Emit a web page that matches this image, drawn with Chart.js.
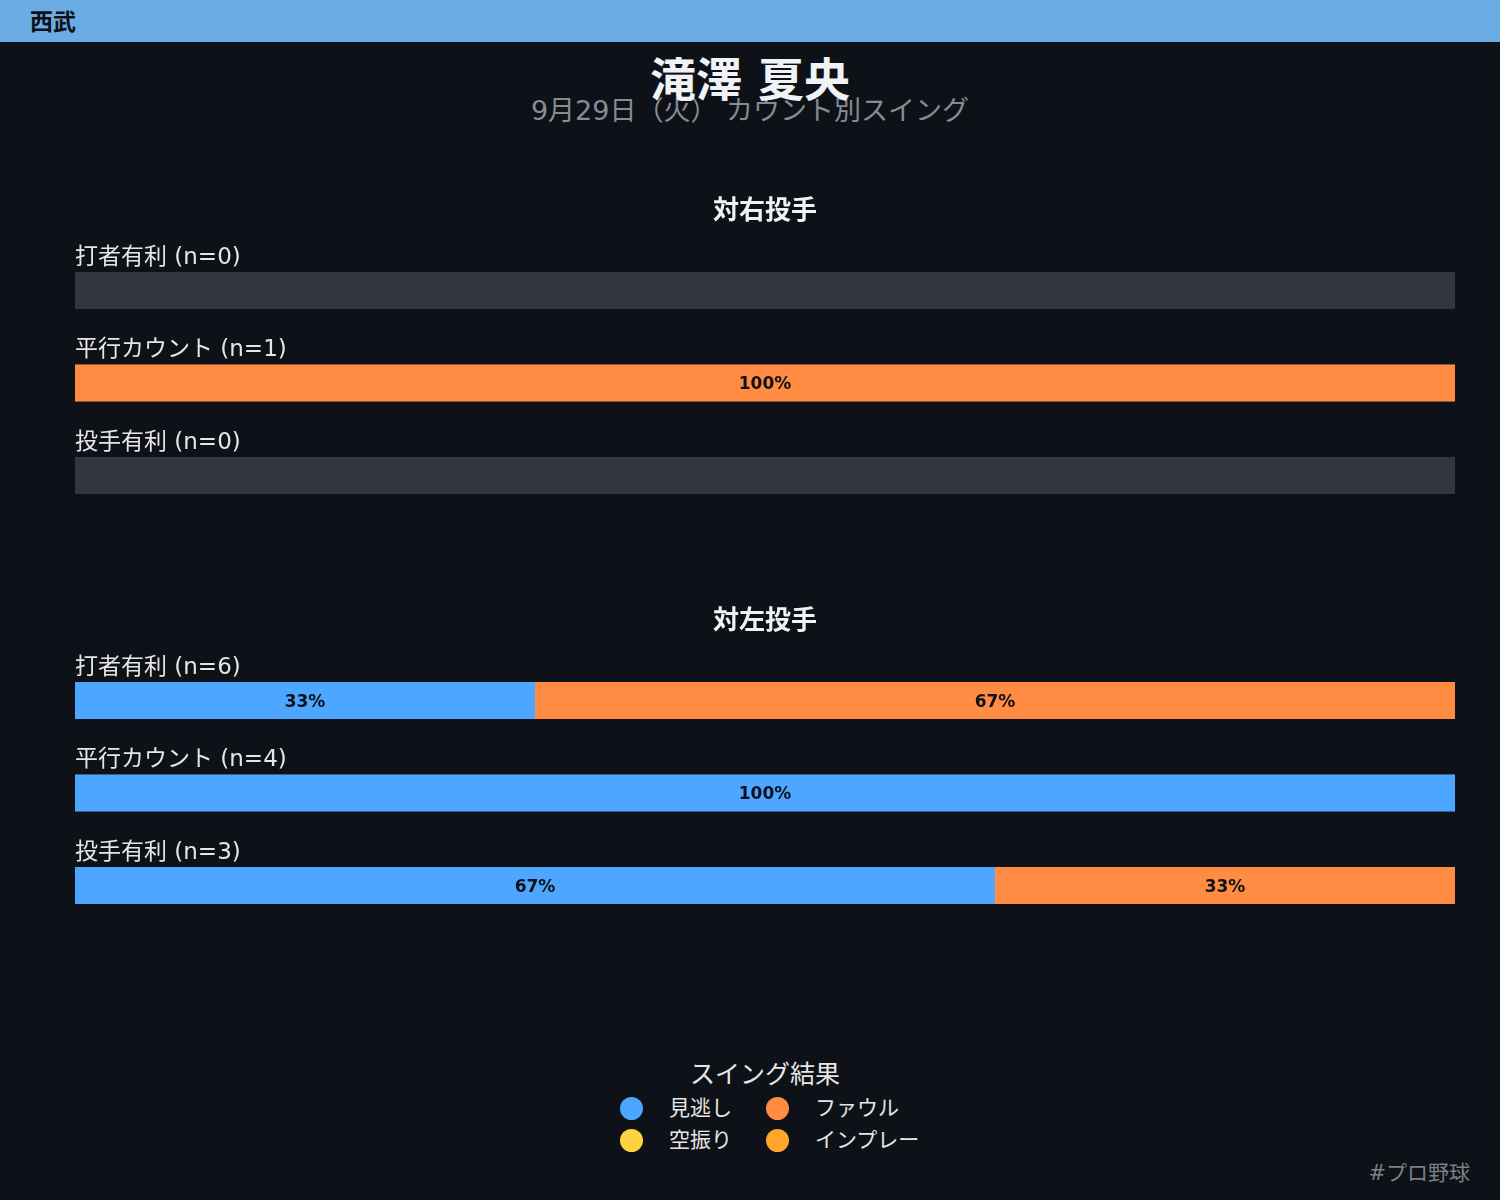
<!DOCTYPE html>
<html>
<head>
<meta charset="utf-8">
<script src="https://cdn.jsdelivr.net/npm/chart.js@4"></script>
<style>
  body { margin: 0; background: #0e1117; width: 1500px; height: 1200px; overflow: hidden; position: relative;
         font-family: "DejaVu Sans", "Noto Sans CJK JP", sans-serif; }
  .topbar { position: absolute; left: 0; top: 0; width: 1500px; height: 42px; background: #6aace3; }
  .topbar span { position: absolute; left: 30px; top: 3px; font-size: 23px; font-weight: bold; color: #0e1117; }
  .title { position: absolute; left: 0; width: 1500px; text-align: center; top: 43px; font-size: 46px; font-weight: bold; color: #f0f2f6; z-index: 2; }
  .subtitle { position: absolute; left: 0; width: 1500px; text-align: center; top: 89px; font-size: 27px; color: #878b93; z-index: 1; }
  .chartbox { position: absolute; left: 0; width: 1500px; height: 400px; }
  .legtitle { position: absolute; left: 0; width: 1530px; text-align: center; top: 1054px; font-size: 25px; color: #e6e6e6; }
  .legitem { position: absolute; font-size: 21px; color: #e6e6e6; }
  .dot { position: absolute; width: 23px; height: 23px; border-radius: 50%; }
  .tag { position: absolute; right: 30px; top: 1156px; font-size: 21px; color: #7c8088; }
</style>
</head>
<body>
<div class="topbar"><span>西武</span></div>
<div class="subtitle">9月29日（火） カウント別スイング</div>
<div class="title">滝澤 夏央</div>
<div class="chartbox" style="top:150px"><canvas id="rightChart"></canvas></div>
<div class="chartbox" style="top:560px"><canvas id="leftChart"></canvas></div>
<div class="legtitle">スイング結果</div>
<div id="legend"></div>
<div class="tag">#プロ野球</div>

<script>
// count situations (rows)
const countLabels = ["打者有利", "平行カウント", "投手有利"];
// swing results (stack order)
const resultLabels = ["見逃し", "空振り", "ファウル", "インプレー"];
const resultColors = ["#4da6ff", "#ffd23f", "#ff8c42", "#ffa62b"];

// vs right-handed pitchers: pitches per situation, by result
const rightTotals = [0, 1, 0];
const rightLook = [0, 0, 0];
const rightWhiff = [0, 0, 0];
const rightFoul = [0, 1, 0];
const rightInPlay = [0, 0, 0];

// vs left-handed pitchers
const leftTotals = [6, 4, 3];
const leftLook = [2, 4, 2];
const leftWhiff = [0, 0, 0];
const leftFoul = [4, 0, 1];
const leftInPlay = [0, 0, 0];

const barHeight = 37;

const rowsPlugin = {
  id: "rows",
  beforeDatasetsDraw(chart) {
    const ctx = chart.ctx;
    const area = chart.chartArea;
    const yScale = chart.scales.y;
    ctx.save();
    ctx.fillStyle = "#31363f";
    countLabels.forEach((lab, i) => {
      const y = yScale.getPixelForValue(i);
      ctx.fillRect(area.left, y - barHeight / 2, area.right - area.left, barHeight);
    });
    ctx.restore();
  },
  afterDraw(chart) {
    const ctx = chart.ctx;
    const area = chart.chartArea;
    const yScale = chart.scales.y;
    const opts = chart.options.plugins.rows;
    ctx.save();
    ctx.fillStyle = "#f0f2f6";
    ctx.font = 'bold 26px "DejaVu Sans", "Noto Sans CJK JP"';
    ctx.textAlign = "center";
    ctx.textBaseline = "middle";
    ctx.fillText(opts.title, (area.left + area.right) / 2, area.top - 32);

    ctx.font = '23px "DejaVu Sans", "Noto Sans CJK JP"';
    ctx.textAlign = "left";
    ctx.fillStyle = "#e6e6e6";
    countLabels.forEach((lab, i) => {
      const y = yScale.getPixelForValue(i);
      ctx.fillText(lab + " (n=" + opts.totals[i] + ")", area.left, y - barHeight / 2 - 14);
    });

    // percentage labels in each segment
    ctx.font = 'bold 17px "DejaVu Sans", "Noto Sans CJK JP"';
    ctx.textAlign = "center";
    ctx.fillStyle = "#0e1117";
    chart.data.datasets.forEach((ds, di) => {
      chart.getDatasetMeta(di).data.forEach((bar, i) => {
        const v = ds.data[i];
        if (v > 0) {
          const p = bar.getProps(["x", "base", "y"], true);
          ctx.fillText(Math.round(v) + "%", (p.x + p.base) / 2, p.y + 2);
        }
      });
    });
    ctx.restore();
  }
};

function pct(counts, totals) {
  return counts.map((c, i) => totals[i] > 0 ? c / totals[i] * 100 : 0);
}

function makeChart(id, title, totals, series) {
  const ctx = document.getElementById(id).getContext("2d");
  new Chart(ctx, {
    type: "bar",
    data: {
      labels: countLabels,
      datasets: resultLabels.map((lab, k) => ({
        label: lab,
        data: pct(series[k], totals),
        backgroundColor: resultColors[k],
        borderWidth: 0,
        inflateAmount: 0,
        barThickness: barHeight
      }))
    },
    options: {
      indexAxis: "y",
      responsive: true,
      maintainAspectRatio: false,
      animation: false,
      layout: { padding: { left: 75, right: 45, top: 94.25, bottom: 28.25 } },
      scales: {
        x: { stacked: true, min: 0, max: 100, display: false },
        y: { stacked: true, display: false }
      },
      plugins: {
        legend: { display: false },
        tooltip: { enabled: false },
        rows: { title: title, totals: totals }
      }
    },
    plugins: [rowsPlugin]
  });
}

makeChart("rightChart", "対右投手", rightTotals, [rightLook, rightWhiff, rightFoul, rightInPlay]);
makeChart("leftChart", "対左投手", leftTotals, [leftLook, leftWhiff, leftFoul, leftInPlay]);

// legend, two columns
const legend = document.getElementById("legend");
resultLabels.forEach((lab, i) => {
  const col = Math.floor(i / 2);
  const row = i % 2;
  const cx = 631 + col * 146;
  const cy = 1108 + row * 32;
  const dot = document.createElement("div");
  dot.className = "dot";
  dot.style.left = (cx - 11.5) + "px";
  dot.style.top = (cy - 11.5) + "px";
  dot.style.background = resultColors[i];
  legend.appendChild(dot);
  const txt = document.createElement("div");
  txt.className = "legitem";
  txt.style.left = (cx + 38) + "px";
  txt.style.top = (cy - 17) + "px";
  txt.textContent = lab;
  legend.appendChild(txt);
});
</script>
</body>
</html>
